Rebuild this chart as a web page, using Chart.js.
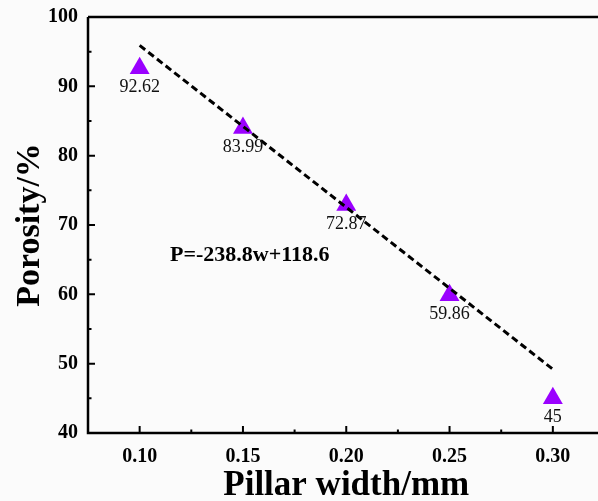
<!DOCTYPE html>
<html>
<head>
<meta charset="utf-8">
<script src="https://cdn.jsdelivr.net/npm/chart.js@4.4.0/dist/chart.umd.min.js"></script>
<style>
html, body { margin: 0; padding: 0; background: #fbfbfb; overflow: hidden; }
#wrap { width: 616px; height: 501px; }
</style>
</head>
<body>
<div id="wrap"><canvas id="porosityChart" width="616" height="501"></canvas></div>
<script>
// data
const pillarWidth = [0.10, 0.15, 0.20, 0.25, 0.30];
const porosity = [92.62, 83.99, 72.87, 59.86, 45];
const pointLabels = ["92.62", "83.99", "72.87", "59.86", "45"];
const fitX = [0.10, 0.30];
const fitY = [95.9, 49.2];
const xTicks = [0.10, 0.15, 0.20, 0.25, 0.30];
const yTicks = [40, 50, 60, 70, 80, 90, 100];
const equation = "P=-238.8w+118.6";

const serif = "'Liberation Serif', 'Times New Roman', serif";

// frame, inward ticks and text labels
const decorPlugin = {
    id: "decor",
    afterDraw(chart) {
        const ctx = chart.ctx;
        const xs = chart.scales.x, ys = chart.scales.y;
        const a = chart.chartArea;
        ctx.save();
        ctx.strokeStyle = "#000";
        ctx.lineWidth = 2.5;
        ctx.beginPath();
        ctx.moveTo(a.left, a.top);
        ctx.lineTo(a.right, a.top);
        ctx.moveTo(a.left, a.top);
        ctx.lineTo(a.left, a.bottom);
        ctx.lineTo(a.right, a.bottom);
        ctx.stroke();

        ctx.lineWidth = 2;
        ctx.beginPath();
        xTicks.forEach(v => {
            const px = xs.getPixelForValue(v);
            ctx.moveTo(px, a.bottom); ctx.lineTo(px, a.bottom - 7);
            const mid = v + 0.025;
            if (mid < xs.max) {
                const pm = xs.getPixelForValue(mid);
                ctx.moveTo(pm, a.bottom); ctx.lineTo(pm, a.bottom - 3.5);
            }
        });
        yTicks.forEach(v => {
            const py = ys.getPixelForValue(v);
            if (v > ys.min && v < ys.max) { ctx.moveTo(a.left, py); ctx.lineTo(a.left + 7, py); }
            const mid = v + 5;
            if (mid < ys.max) {
                const pm = ys.getPixelForValue(mid);
                ctx.moveTo(a.left, pm); ctx.lineTo(a.left + 3.5, pm);
            }
        });
        ctx.stroke();

        // value labels under the triangles
        const meta = chart.getDatasetMeta(1);
        ctx.fillStyle = "#111";
        ctx.font = "18px " + serif;
        ctx.textAlign = "center";
        ctx.textBaseline = "middle";
        meta.data.forEach((pt, i) => {
            ctx.fillText(pointLabels[i], pt.x, pt.y + 19);
        });

        // fit equation
        ctx.font = "bold 22px " + serif;
        ctx.textAlign = "left";
        ctx.fillStyle = "#000";
        ctx.fillText(equation, xs.getPixelForValue(0.1147), ys.getPixelForValue(65.7));
        ctx.restore();
    }
};

const ctx = document.getElementById("porosityChart").getContext("2d");
const porosityChart = new Chart(ctx, {
    type: "scatter",
    data: {
        datasets: [
            {
                label: "fit",
                type: "line",
                data: fitX.map((x, i) => ({ x: x, y: fitY[i] })),
                borderColor: "#000",
                borderWidth: 3,
                borderDash: [7, 4],
                pointRadius: 0,
                fill: false,
                tension: 0
            },
            {
                label: "Porosity",
                data: pillarWidth.map((x, i) => ({ x: x, y: porosity[i] })),
                pointStyle: "triangle",
                pointRadius: 11.5,
                backgroundColor: "#9a00ff",
                borderColor: "#9a00ff",
                borderWidth: 0
            }
        ]
    },
    options: {
        responsive: false,
        animation: false,
        layout: { padding: { top: 17, right: 6, left: 0, bottom: 0 } },
        plugins: { legend: { display: false }, tooltip: { enabled: false } },
        scales: {
            x: {
                type: "linear",
                min: 0.075,
                max: 0.325,
                afterBuildTicks: s => { s.ticks = xTicks.map(v => ({ value: v })); },
                afterFit: s => { s.height = 68; },
                grid: { display: false },
                border: { display: false },
                ticks: {
                    color: "#000",
                    padding: 4,
                    maxRotation: 0,
                    font: { family: serif, size: 20, weight: "bold" },
                    callback: v => v.toFixed(2)
                },
                title: {
                    display: true,
                    text: "Pillar width/mm",
                    color: "#000",
                    padding: 0,
                    font: { family: serif, size: 35, weight: "bold", lineHeight: 0.88 }
                }
            },
            y: {
                min: 40,
                max: 100,
                afterBuildTicks: s => { s.ticks = yTicks.map(v => ({ value: v })); },
                afterFit: s => { s.width = 88; s.paddingTop = 0; s.paddingBottom = 0; },
                grid: { display: false },
                border: { display: false },
                ticks: {
                    color: "#000",
                    padding: 2,
                    font: { family: serif, size: 20, weight: "bold" }
                },
                title: {
                    display: true,
                    text: "Porosity/%",
                    color: "#000",
                    padding: { top: 10, bottom: 0 },
                    font: { family: serif, size: 34, weight: "bold", lineHeight: 1.2 }
                }
            }
        }
    },
    plugins: [decorPlugin]
});
</script>
</body>
</html>
